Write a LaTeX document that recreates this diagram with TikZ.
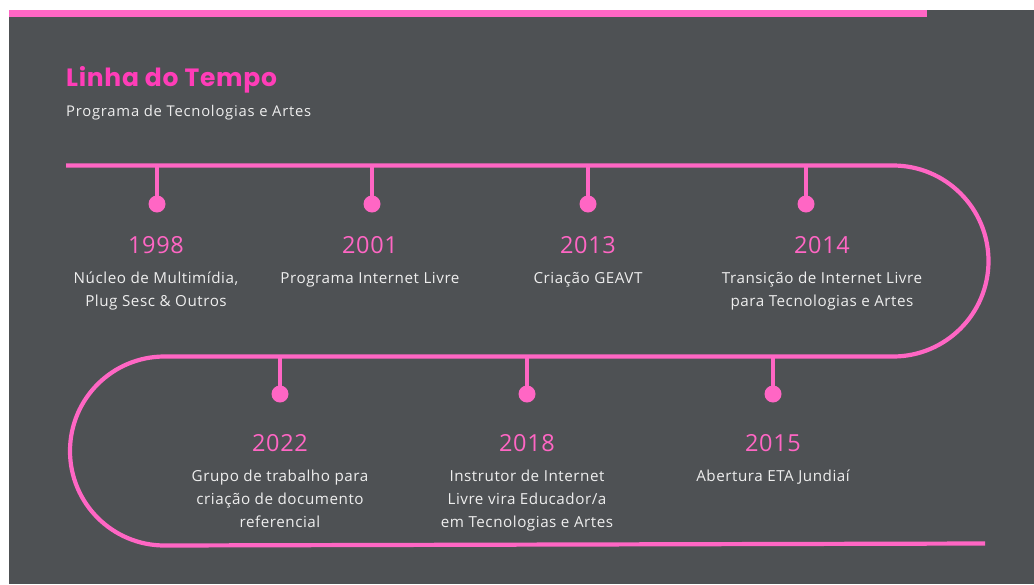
\documentclass[tikz,border=0pt]{standalone}
\usepackage{fontspec}
\setmainfont{Open Sans}
\newfontfamily\titlefont{Poppins}[LetterSpace=2.8]
\newfontfamily\bodyfont{Open Sans}[LetterSpace=3.6]
\newfontfamily\subfont{Open Sans}[LetterSpace=5.2]
\newfontfamily\yearfont{Open Sans}[LetterSpace=3]
\definecolor{bgdark}{HTML}{4E5154}
\definecolor{pinkline}{HTML}{FF66C4}
\definecolor{pinktitle}{HTML}{FF3DB8}
\definecolor{softwhite}{HTML}{EEEEEE}
\tikzset{
  track/.style={draw=pinkline, line width=4.2pt},
  stem/.style={draw=pinkline, line width=3.6pt},
  dot/.style={circle, fill=pinkline, inner sep=0pt, minimum size=17pt},
  year/.style={anchor=base, text=pinkline, inner sep=0pt,
    font=\yearfont\fontsize{23.5}{28}\selectfont},
  desc/.style={anchor=base, text=softwhite, inner sep=0pt, align=center,
    font=\bodyfont\fontsize{15.2}{23.2}\selectfont},
}
\begin{document}
\begin{tikzpicture}[x=1pt,y=1pt]
  % page frame and dark panel
  \useasboundingbox (0,0) rectangle (1034,-584);
  \fill[white] (0,0) rectangle (1034,-584);
  \fill[bgdark] (9,-10) rectangle (1034,-584);
  \fill[pinkline] (9,-10) rectangle (927,-17.3);

  % heading
  \node[anchor=base west, inner sep=0pt, text=pinktitle,
        font=\titlefont\bfseries\fontsize{25}{28}\selectfont]
       (title) at (66,-86) {Linha do Tempo};
  \node[anchor=base west, inner sep=0pt, text=softwhite,
        font=\subfont\fontsize{14.8}{18}\selectfont]
       (subtitle) at (66,-116) {Programa de Tecnologias e Artes};

  % serpentine timeline track
  \coordinate (start) at (66,-165.5);
  \coordinate (turnR) at (893,-165.5);
  \coordinate (midL) at (164.5,-356.5);
  \coordinate (endB) at (985,-543.5);
  \draw[track] (start) -- (turnR)
    arc[start angle=90, end angle=-90, radius=95.5] -- (midL)
    arc[start angle=90, end angle=270, radius=94.5] -- (endB);

  % upper row of events: stem x, text column x
  % (base of a multi-line node sits on its last line)
  \foreach \n/\x/\tx/\yr/\lines/\txt in {
      a/157/156/1998/2/{Núcleo de Multimídia,\\Plug Sesc \& Outros},
      b/372/370/2001/1/{Programa Internet Livre},
      c/588/588/2013/1/{Criação GEAVT},
      d/806/822/2014/2/{Transição de Internet Livre\\para Tecnologias e Artes}} {
    \coordinate (t\n) at (\x,-165.5);
    \node[dot] (d\n) at (\x,-204) {};
    \draw[stem] (t\n) -- (d\n.center);
    \node[year] (y\n) at (\tx,-253.3) {\yr};
    \node[desc] (x\n) at (\tx,{-283-(\lines-1)*23.2}) {\txt};
  }

  % lower row of events
  \foreach \n/\x/\yr/\lines/\txt in {
      e/280/2022/3/{Grupo de trabalho para\\criação de documento\\referencial},
      f/527/2018/3/{Instrutor de Internet\\Livre vira Educador/a\\em Tecnologias e Artes},
      g/773/2015/1/{Abertura ETA Jundiaí}} {
    \coordinate (t\n) at (\x,-356.5);
    \node[dot] (d\n) at (\x,-394) {};
    \draw[stem] (t\n) -- (d\n.center);
    \node[year] (y\n) at (\x,-451) {\yr};
    \node[desc] (x\n) at (\x,{-481-(\lines-1)*23.2}) {\txt};
  }
\end{tikzpicture}
\end{document}
